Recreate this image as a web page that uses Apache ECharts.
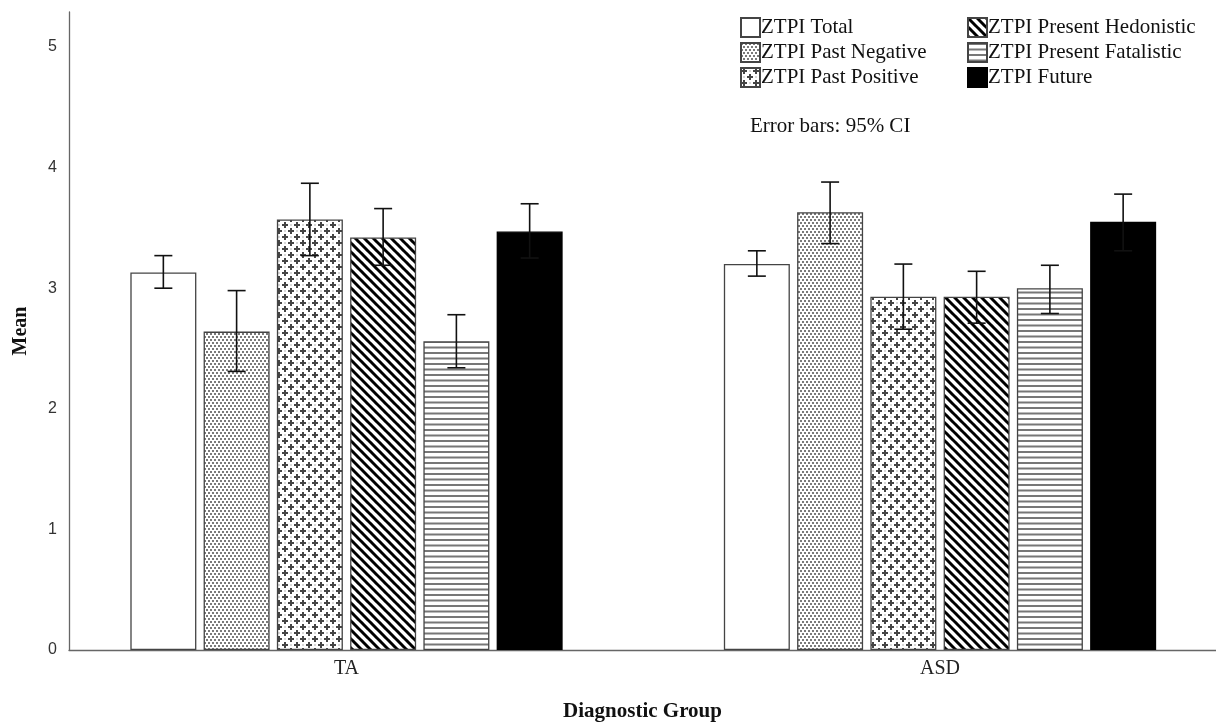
<!DOCTYPE html>
<html>
<head>
<meta charset="utf-8">
<script src="https://cdn.jsdelivr.net/npm/echarts@6/dist/echarts.min.js"></script>
<style>html,body{margin:0;padding:0;background:#fff;}#chart{width:1216px;height:722px;}</style>
</head>
<body>
<div id="chart"></div>
<script>
// ---- data ----
const categories = ['TA', 'ASD'];
const seriesNames = ['ZTPI Total', 'ZTPI Past Negative', 'ZTPI Past Positive', 'ZTPI Present Hedonistic', 'ZTPI Present Fatalistic', 'ZTPI Future'];
const meanTotal = [3.13, 3.20];
const meanPastNegative = [2.64, 3.63];
const meanPastPositive = [3.57, 2.93];
const meanPresentHedonistic = [3.42, 2.93];
const meanPresentFatalistic = [2.56, 3.00];
const meanFuture = [3.47, 3.55];
const ciLowTotal = [3.00, 3.10];
const ciHighTotal = [3.27, 3.31];
const ciLowPastNegative = [2.31, 3.37];
const ciHighPastNegative = [2.98, 3.88];
const ciLowPastPositive = [3.27, 2.66];
const ciHighPastPositive = [3.87, 3.20];
const ciLowPresentHedonistic = [3.19, 2.71];
const ciHighPresentHedonistic = [3.66, 3.14];
const ciLowPresentFatalistic = [2.34, 2.79];
const ciHighPresentFatalistic = [2.78, 3.19];
const ciLowFuture = [3.25, 3.31];
const ciHighFuture = [3.70, 3.78];
const yTicks = [0, 1, 2, 3, 4, 5];

const means = [meanTotal, meanPastNegative, meanPastPositive, meanPresentHedonistic, meanPresentFatalistic, meanFuture];
const lows = [ciLowTotal, ciLowPastNegative, ciLowPastPositive, ciLowPresentHedonistic, ciLowPresentFatalistic, ciLowFuture];
const highs = [ciHighTotal, ciHighPastNegative, ciHighPastPositive, ciHighPresentHedonistic, ciHighPresentFatalistic, ciHighFuture];

// ---- patterns ----
function pat(w, h, draw) {
  const c = document.createElement('canvas');
  c.width = w; c.height = h;
  const ctx = c.getContext('2d');
  ctx.fillStyle = '#fff'; ctx.fillRect(0, 0, w, h);
  draw(ctx, w, h);
  return { image: c, repeat: 'repeat' };
}
const fills = [
  '#ffffff',
  pat(4, 6, (ctx) => { ctx.fillStyle = '#7a7a7a'; ctx.fillRect(0, 0, 2, 2); ctx.fillRect(2, 3, 2, 2); }),
  pat(12, 12, (ctx) => {
    ctx.fillStyle = '#d8d8d8'; ctx.fillRect(8, 2, 2, 2); ctx.fillRect(2, 8, 2, 2);
    ctx.fillStyle = '#444';
    [[3, 3], [9, 9]].forEach(([cx, cy]) => { ctx.fillRect(cx - 1, cy - 3, 2, 6); ctx.fillRect(cx - 3, cy - 1, 6, 2); });
  }),
  pat(9, 9, (ctx) => {
    ctx.strokeStyle = '#000'; ctx.lineWidth = 3;
    [-9, 0, 9].forEach(k => { ctx.beginPath(); ctx.moveTo(k - 1, -1); ctx.lineTo(k + 10, 10); ctx.stroke(); });
  }),
  pat(4, 11, (ctx) => { ctx.fillStyle = '#777'; ctx.fillRect(0, 0, 4, 2); ctx.fillRect(0, 5.5, 4, 2); }),
  '#000000'
];

const BAR_W = 66, BAR_GAP = 0.11;
const step = BAR_W * (1 + BAR_GAP);

const series = [];
seriesNames.forEach((name, i) => {
  series.push({
    type: 'bar', name, xAxisIndex: 0, yAxisIndex: 0, clip: false,
    data: means[i], barWidth: BAR_W, barGap: (BAR_GAP * 100) + '%',
    itemStyle: { color: fills[i], borderColor: i === 5 ? '#000' : '#444', borderWidth: 1.3 },
    emphasis: { disabled: true }, silent: true
  });
});
seriesNames.forEach((name, i) => {
  series.push({
    type: 'custom', name: name + ' CI', xAxisIndex: 0, yAxisIndex: 0, z: 10, silent: true, clip: false,
    data: categories.map((c, k) => [k, lows[i][k], highs[i][k]]),
    renderItem: (params, api) => {
      const lo = api.coord([api.value(0), api.value(1)]);
      const hi = api.coord([api.value(0), api.value(2)]);
      const x = lo[0] + (i - 2.5) * step;
      const hw = 9;
      const st = { stroke: '#111', lineWidth: 1.6 };
      return { type: 'group', children: [
        { type: 'line', shape: { x1: x, y1: lo[1], x2: x, y2: hi[1] }, style: st },
        { type: 'line', shape: { x1: x - hw, y1: lo[1], x2: x + hw, y2: lo[1] }, style: st },
        { type: 'line', shape: { x1: x - hw, y1: hi[1], x2: x + hw, y2: hi[1] }, style: st }
      ]};
    }
  });
});

const YMAX = 5.29;
const serif = 'Liberation Serif';
const legendBase = { orient: 'vertical', top: 12, itemWidth: 19, itemHeight: 19, itemGap: 4, icon: 'rect', selectedMode: false,
  textStyle: { fontFamily: serif, fontSize: 21, color: '#111', padding: [0, 0, 0, -4] } };
const option = {
  animation: false,
  backgroundColor: '#fff',
  title: { text: 'Error bars: 95% CI', left: 745, top: 111, textStyle: { fontFamily: serif, fontSize: 21, fontWeight: 'normal', color: '#111' } },
  legend: [
    Object.assign({}, legendBase, { left: 735, data: seriesNames.slice(0, 3) }),
    Object.assign({}, legendBase, { left: 962, data: seriesNames.slice(3) })
  ],
  grid: [
    { left: 346.5, right: 276, top: 12, bottom: 72, outerBoundsMode: 'none', containLabel: false },
    { left: 69, right: 0, top: 12, bottom: 72, outerBoundsMode: 'none', containLabel: false }
  ],
  xAxis: [
    { type: 'category', gridIndex: 0, data: categories, boundaryGap: false, axisLine: { show: false }, axisTick: { show: false },
      axisLabel: { margin: 9, fontFamily: serif, fontSize: 20, color: '#222' } },
    { type: 'value', gridIndex: 1, min: 0, max: 1, axisLine: { show: true, lineStyle: { color: '#666', width: 1.3 } },
      axisTick: { show: false }, axisLabel: { show: false }, splitLine: { show: false },
      name: 'Diagnostic Group', nameLocation: 'middle', nameGap: 51,
      nameTextStyle: { fontFamily: serif, fontSize: 21, fontWeight: 'bold', color: '#111' } }
  ],
  yAxis: [
    { type: 'value', gridIndex: 0, min: 0, max: YMAX, show: false, splitLine: { show: false } },
    { type: 'value', gridIndex: 1, min: yTicks[0], max: YMAX, interval: 1,
      axisLine: { show: true, lineStyle: { color: '#666', width: 1.3 } }, axisTick: { show: false }, splitLine: { show: false },
      axisLabel: { margin: 12, showMaxLabel: false, fontFamily: 'Liberation Sans', fontSize: 16, color: '#333' },
      name: 'Mean', nameLocation: 'middle', nameGap: 38, nameRotate: 90,
      nameTextStyle: { fontFamily: serif, fontSize: 20, fontWeight: 'bold', color: '#111' } }
  ],
  series
};
const chart = echarts.init(document.getElementById('chart'), null, { renderer: 'canvas' });
chart.setOption(option);
</script>
</body>
</html>
